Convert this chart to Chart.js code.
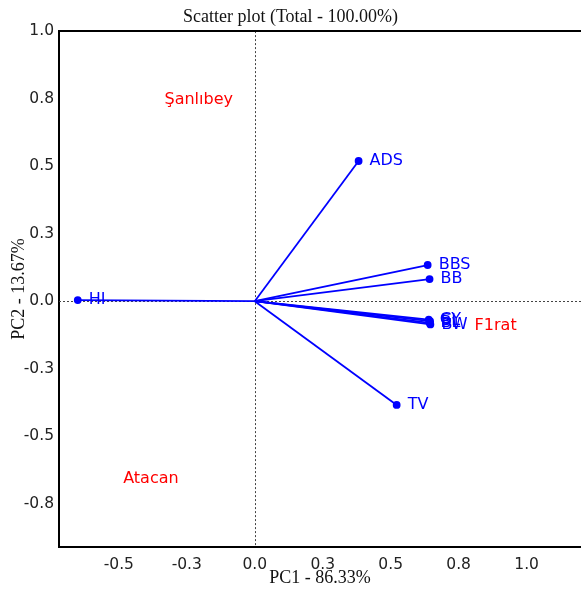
<!DOCTYPE html>
<html>
<head>
<meta charset="utf-8">
<title>Scatter plot</title>
<script src="https://cdn.jsdelivr.net/npm/chart.js@4.4.0/dist/chart.umd.min.js"></script>
<style>
  html, body { margin: 0; padding: 0; background: #fff; }
  #wrap { width: 581px; height: 589px; }
</style>
</head>
<body>
<div id="wrap"><canvas id="chart"></canvas></div>
<script>
// Variable vectors (loadings on PC1 / PC2)
const varNames = ['HI', 'ADS', 'BBS', 'BB', 'GY', 'SL', 'BL', 'BW', 'TV'];
const varPC1 = [-0.651, 0.382, 0.636, 0.643, 0.640, 0.645, 0.643, 0.646, 0.522];
const varPC2 = [0.004, 0.519, 0.134, 0.082, -0.068, -0.074, -0.080, -0.086, -0.384];

// Observations (genotypes), shown as labels only
const obsNames = ['Şanlıbey', 'Atacan', 'F1rat'];
const obsPC1 = [-0.206, -0.382, 0.886];
const obsPC2 = [0.746, -0.657, -0.090];

// Ticks sit on quarter steps, labels are rounded to one decimal
const xTicks = [-0.5, -0.25, 0, 0.25, 0.5, 0.75, 1.0];
const xTickLabels = ['-0.5', '-0.3', '0.0', '0.3', '0.5', '0.8', '1.0'];
const yTicks = [-0.75, -0.5, -0.25, 0, 0.25, 0.5, 0.75, 1.0];
const yTickLabels = ['-0.8', '-0.5', '-0.3', '0.0', '0.3', '0.5', '0.8', '1.0'];

const BLUE = '#0000ff';
const RED = '#ff0000';

// zero lines, top frame line and the text labels
const biplotDecor = {
    id: 'biplotDecor',
    beforeDatasetsDraw(chart) {
        const { ctx, chartArea: a, scales: { x, y } } = chart;
        const x0 = Math.round(x.getPixelForValue(0)) + 0.5;
        const y0 = Math.round(y.getPixelForValue(0)) + 0.5;
        ctx.save();
        ctx.strokeStyle = '#444';
        ctx.lineWidth = 1;
        ctx.setLineDash([2, 2]);
        ctx.beginPath();
        ctx.moveTo(x0, a.top);
        ctx.lineTo(x0, a.bottom);
        ctx.moveTo(a.left, y0);
        ctx.lineTo(a.right, y0);
        ctx.stroke();
        ctx.setLineDash([]);
        ctx.strokeStyle = '#000';
        ctx.lineWidth = 2;
        ctx.beginPath();
        ctx.moveTo(a.left - 1, a.top);
        ctx.lineTo(a.right, a.top);
        ctx.stroke();
        ctx.restore();
    },
    afterDatasetsDraw(chart) {
        const { ctx, scales: { x, y } } = chart;
        ctx.save();
        ctx.font = '16px "DejaVu Sans"';
        ctx.textBaseline = 'middle';
        ctx.textAlign = 'left';
        ctx.fillStyle = BLUE;
        varNames.forEach((name, i) => {
            ctx.fillText(name, x.getPixelForValue(varPC1[i]) + 11, y.getPixelForValue(varPC2[i]));
        });
        ctx.textAlign = 'center';
        ctx.fillStyle = RED;
        obsNames.forEach((name, i) => {
            ctx.fillText(name, x.getPixelForValue(obsPC1[i]), y.getPixelForValue(obsPC2[i]));
        });
        ctx.restore();
    }
};

function createChart() {
    const ctx = document.getElementById('chart').getContext('2d');
    Chart.defaults.font.family = '"DejaVu Sans", sans-serif';

    new Chart(ctx, {
        type: 'scatter',
        data: {
            datasets: varNames.map((name, i) => ({
                label: name,
                data: [{ x: 0, y: 0 }, { x: varPC1[i], y: varPC2[i] }],
                showLine: true,
                borderColor: BLUE,
                backgroundColor: BLUE,
                borderWidth: 1.8,
                pointRadius: [0, 3],
                pointHoverRadius: 0
            }))
        },
        options: {
            responsive: true,
            maintainAspectRatio: false,
            animation: false,
            layout: { padding: 0, autoPadding: false },
            scales: {
                x: {
                    type: 'linear',
                    min: -0.72,
                    max: 1.2,
                    afterBuildTicks: s => { s.ticks = xTicks.map(v => ({ value: v })); },
                    afterFit: s => { s.height = 42; s.paddingLeft = 0; s.paddingRight = 0; },
                    grid: { display: false, drawTicks: false },
                    border: { display: true, color: '#000', width: 2 },
                    ticks: {
                        padding: 9,
                        color: '#222',
                        font: { size: 15.5 },
                        callback: (v, i) => xTickLabels[i]
                    },
                    title: {
                        display: true,
                        text: 'PC1 - 86.33%',
                        color: '#111',
                        font: { family: '"Liberation Serif", serif', size: 18 },
                        padding: { top: 0, bottom: 0 }
                    }
                },
                y: {
                    type: 'linear',
                    min: -0.91,
                    max: 1.0,
                    afterBuildTicks: s => { s.ticks = yTicks.map(v => ({ value: v })); },
                    afterFit: s => { s.width = 59; s.paddingTop = 0; s.paddingBottom = 0; },
                    grid: { display: false, drawTicks: false },
                    border: { display: true, color: '#000', width: 2 },
                    ticks: {
                        padding: 5,
                        color: '#222',
                        font: { size: 15.5 },
                        callback: (v, i) => yTickLabels[i]
                    },
                    title: {
                        display: true,
                        text: 'PC2 - 13.67%',
                        color: '#111',
                        font: { family: '"Liberation Serif", serif', size: 18 },
                        padding: { top: 8, bottom: 0 }
                    }
                }
            },
            plugins: {
                legend: { display: false },
                tooltip: { enabled: false },
                title: {
                    display: true,
                    text: 'Scatter plot (Total - 100.00%)',
                    color: '#111',
                    font: { family: '"Liberation Serif", serif', size: 18, weight: 'normal' },
                    padding: { top: 6, bottom: 3.5 }
                }
            }
        },
        plugins: [biplotDecor]
    });
}

document.addEventListener('DOMContentLoaded', createChart);
</script>
</body>
</html>
